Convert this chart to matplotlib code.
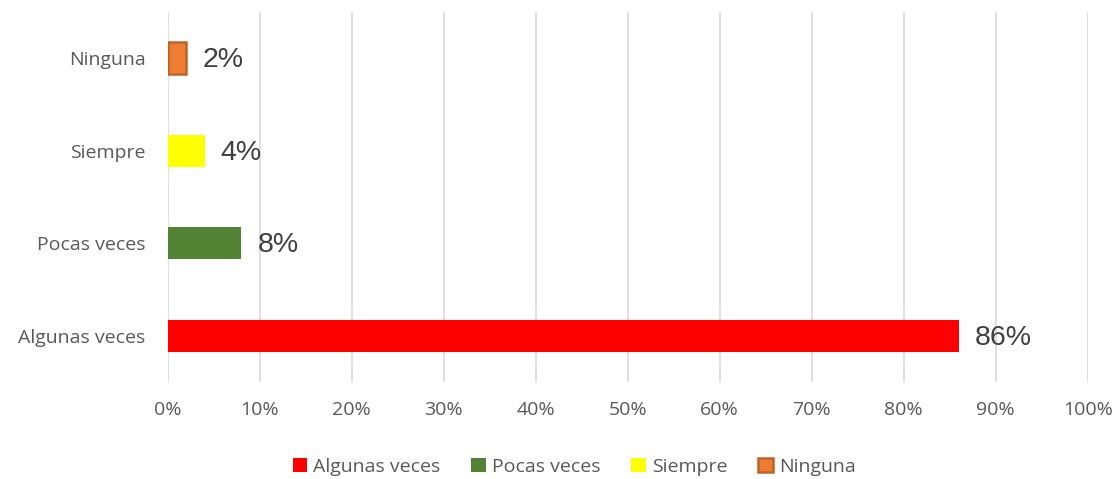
import matplotlib
matplotlib.use("Agg")
import matplotlib.pyplot as plt
from matplotlib.patches import Patch

categories = ["Algunas veces", "Pocas veces", "Siempre", "Ninguna"]
values = [86, 8, 4, 2]
labels = ["86%", "8%", "4%", "2%"]
colors = ["#FF0000", "#548235", "#FFFF00", "#ED7D31"]
edges = ["#FF0000", "#548235", "#FFFF00", "#C0622A"]
xticks = [0, 10, 20, 30, 40, 50, 60, 70, 80, 90, 100]

plt.rcParams['font.family'] = ['Open Sans', 'DejaVu Sans']
fig = plt.figure(figsize=(11.19, 4.79), dpi=100)
ax = fig.add_axes([0.150, 0.2025, 0.822, 0.7725])

ypos = list(range(len(categories)))
lws = [0, 0, 0, 1.8]
for i, (v, c, e, lw) in enumerate(zip(values, colors, edges, lws)):
    ax.barh(ypos[i], v, height=0.35, color=c, edgecolor=e, linewidth=lw, zorder=3)
    ax.annotate(labels[i], (v, ypos[i]), xytext=(16, -2), textcoords="offset pixels",
                va="center", ha="left", fontsize=20.5, color="#404040",
                family="Liberation Sans", zorder=4)

ax.set_xlim(0, 100)
ax.set_ylim(-0.5, 3.5)
ax.set_xticks(xticks)
ax.set_xticklabels([f"{t}%" for t in xticks], fontsize=14, color="#595959")
ax.set_yticks(ypos)
ax.set_yticklabels(categories, fontsize=14, color="#595959")
ax.tick_params(axis="both", length=0)
ax.tick_params(axis="y", pad=16)
ax.tick_params(axis="x", pad=14)
ax.grid(axis="x", color="#D9D9D9", linewidth=1.2, zorder=0)
for s in ax.spines.values():
    s.set_visible(False)

handles = [Patch(facecolor=c, edgecolor=e, linewidth=lw) for c, e, lw in zip(colors, edges, lws)]
fig.legend(handles, categories, loc="center", bbox_to_anchor=(0.513, 0.025), ncol=4,
           frameon=False, fontsize=14, handlelength=0.75, handleheight=0.75,
           handletextpad=0.3, columnspacing=1.6, labelcolor="#595959")

fig.savefig("out.png", dpi=100)
